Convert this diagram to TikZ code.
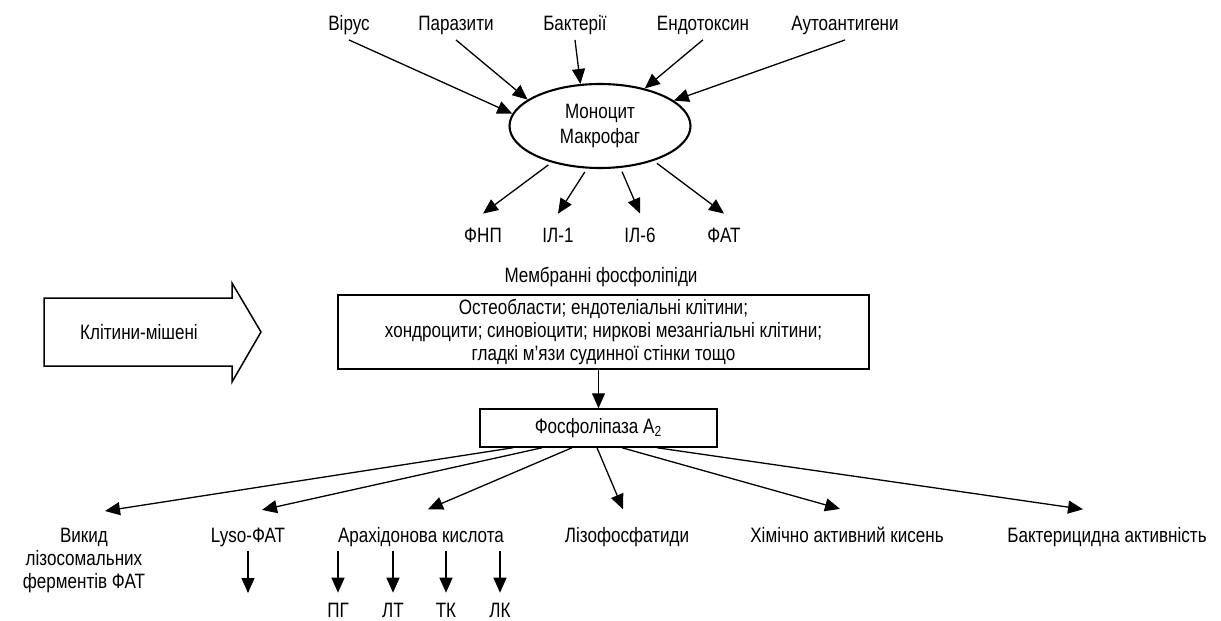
\documentclass[tikz,border=0pt]{standalone}
\usepackage{fontspec}
\setmainfont{Liberation Sans}[FakeStretch=0.82]
\usetikzlibrary{arrows.meta,shapes.geometric}

\begin{document}
\begin{tikzpicture}[x=0.5pt,y=-0.5pt,>={Triangle[length=7.5pt,width=6.5pt]},
  every node/.style={font=\fontsize{10.4pt}{11.5pt}\selectfont,inner sep=2pt},
  src/.style={anchor=base},
  cyto/.style={anchor=base,outer ysep=5pt},
  res/.style={anchor=base},
  sub/.style={anchor=base,outer ysep=3pt},
  box/.style={draw,line width=0.75pt},
  every path/.style={line width=0.65pt}]
\useasboundingbox (0,0) rectangle (1221,621);

\node[src] (virus) at (349,31) {Вірус};
\node[src] (paraz) at (456,31) {Паразити};
\node[src] (bakt) at (575,31) {Бактерії};
\node[src] (endo) at (703,31) {Ендотоксин};
\node[src] (auto) at (845,31) {Аутоантигени};
\node[draw,ellipse,line width=1.05pt,minimum width=90.5pt,minimum height=42pt,
  inner sep=0pt,align=center] (mono) at (600,126) {Моноцит\\[1pt]Макрофаг};
\draw[->](virus.south)--(mono.172);
\draw[->](paraz.south)--(mono.160);
\draw[->](bakt.south)--(mono.115);
\draw[->](endo.south)--(mono.40);
\draw[->](auto.south)--(mono.19);

\node[cyto] (fnp) at (483,242) {ФНП};
\node[cyto] (il1) at (558,242) {ІЛ-1};
\node[cyto] (il6) at (640,242) {ІЛ-6};
\node[cyto] (fat) at (724,242) {ФАТ};
\draw[->,shorten <=2pt](mono.217)--(fnp.north);
\draw[->,shorten <=2pt](mono.253)--(il1.north);
\draw[->,shorten <=2pt](mono.296)--(il6.north);
\draw[->,shorten <=2pt](mono.327)--(fat.north);

\draw[line width=0.75pt](44,298)--(232,298)--(232,283)--(261,332)--(232,382)--(232,366)--(44,366)--cycle;
\node (target) at (139,332) {Клітини-мішені};

\node[anchor=base] (membr) at (601,282) {Мембранні фосфоліпіди};
\node[box,minimum width=265.5pt,minimum height=37pt,align=center] (cells) at (603.5,332)
  {Остеобласти; ендотеліальні клітини;\\хондроцити; синовіоцити; ниркові мезангіальні клітини;\\гладкі м’язи судинної стінки тощо};
\node[box,minimum width=118.5pt,minimum height=19pt] (pla) at (598.5,428) {Фосфоліпаза A\textsubscript{2}};
\draw[->](pla.north |- cells.south)--(pla.north);

\node[anchor=north,align=center] (vykyd) at (84,524) {Викид\\лізосомальних\\ферментів ФАТ};
\node[res] (lyso) at (248,542) {Lyso-ФАТ};
\node[res] (arach) at (421,542) {Арахідонова кислота};
\node[res] (lizo) at (627,542) {Лізофосфатиди};
\node[res] (chem) at (847,542) {Хімічно активний кисень};
\node[res] (bact) at (1107,542) {Бактерицидна активність};
\draw[->]([xshift=-42.75pt]pla.south)--([xshift=10.5pt,yshift=6.5pt]vykyd.north);
\draw[->]([xshift=-28.25pt]pla.south)--([xshift=7pt,yshift=6.5pt]lyso.north);
\draw[->]([xshift=-13.25pt]pla.south)--([xshift=3.5pt,yshift=6.5pt]arach.north);
\draw[->]([xshift=-0.75pt]pla.south)--([xshift=-2pt,yshift=6.5pt]lizo.north);
\draw[->]([xshift=11.75pt]pla.south)--([xshift=-3.5pt,yshift=6.5pt]chem.north);
\draw[->]([xshift=29.25pt]pla.south)--([xshift=-12pt,yshift=6.5pt]bact.north);

\coordinate (lysoend) at (248,593);
\draw[->](lyso.south)--(lysoend);
\node[sub] (pg) at (338,617) {ПГ};
\node[sub] (lt) at (393,617) {ЛТ};
\node[sub] (tk) at (446,617) {ТК};
\node[sub] (lk) at (500,617) {ЛК};
\foreach \n in {pg,lt,tk,lk}
  \draw[->](arach.south -| \n.north)--(\n.north);
\end{tikzpicture}
\end{document}
